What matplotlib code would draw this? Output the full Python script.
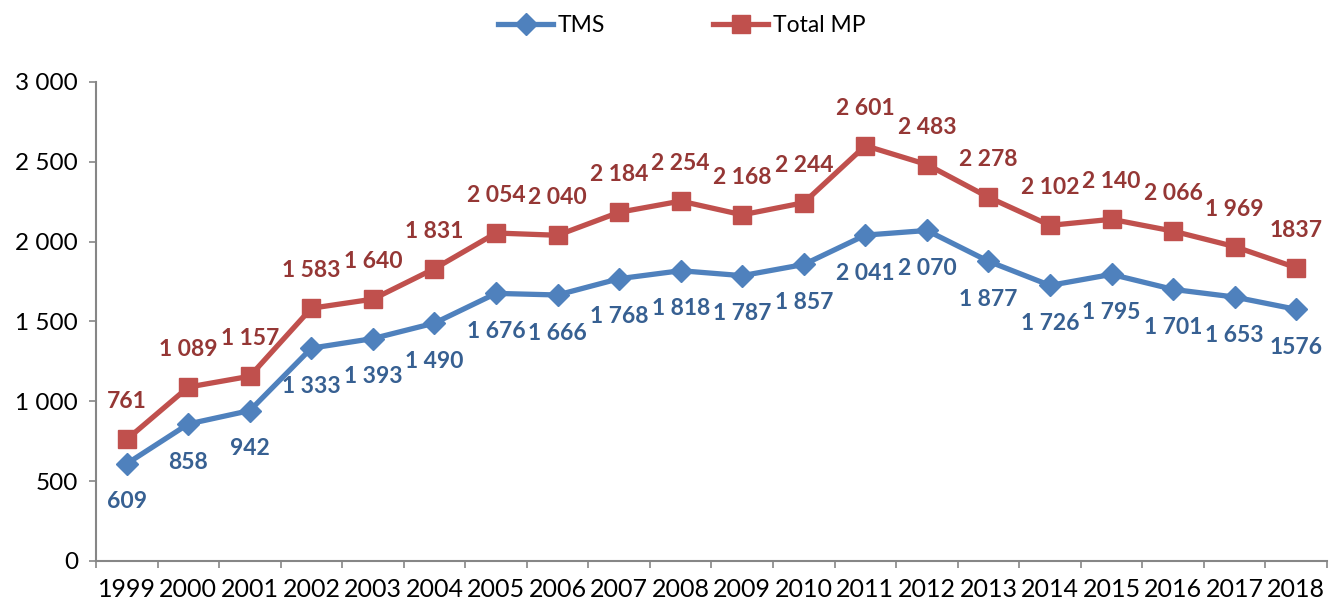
import matplotlib
matplotlib.use("Agg")
import matplotlib.pyplot as plt
from matplotlib.ticker import FuncFormatter, FixedLocator

plt.rcParams['font.family'] = ['Lato', 'DejaVu Sans']

years = ['1999', '2000', '2001', '2002', '2003', '2004', '2005', '2006', '2007', '2008',
         '2009', '2010', '2011', '2012', '2013', '2014', '2015', '2016', '2017', '2018']
tms = [609, 858, 942, 1333, 1393, 1490, 1676, 1666, 1768, 1818,
       1787, 1857, 2041, 2070, 1877, 1726, 1795, 1701, 1653, 1576]
total_mp = [761, 1089, 1157, 1583, 1640, 1831, 2054, 2040, 2184, 2254,
            2168, 2244, 2601, 2483, 2278, 2102, 2140, 2066, 1969, 1837]
tms_labels = ['609', '858', '942', '1 333', '1 393', '1 490', '1 676', '1 666', '1 768', '1 818',
              '1 787', '1 857', '2 041', '2 070', '1 877', '1 726', '1 795', '1 701', '1 653', '1576']
mp_labels = ['761', '1 089', '1 157', '1 583', '1 640', '1 831', '2 054', '2 040', '2 184', '2 254',
             '2 168', '2 244', '2 601', '2 483', '2 278', '2 102', '2 140', '2 066', '1 969', '1837']

blue = '#4F81BD'
red = '#C0504D'
blue_lbl = '#376092'
red_lbl = '#953735'
axis_col = '#868686'

fig = plt.figure(figsize=(13.29, 6.06), dpi=100)
ax = fig.add_axes([0.0722, 0.0743, 0.9263, 0.7904])

x = list(range(len(years)))
l1, = ax.plot(x, tms, color=blue, lw=3.8, marker='D', ms=11, mec=blue, mfc=blue,
              label='TMS', zorder=3)
l2, = ax.plot(x, total_mp, color=red, lw=3.8, marker='s', ms=12.5, mec=red, mfc=red,
              label='Total MP', zorder=3)

for xi, v, s in zip(x, tms, tms_labels):
    ax.annotate(s, (xi, v), xytext=(0, -27.5), textcoords='offset points',
                ha='center', va='center', fontsize=16.5, fontweight='bold', color=blue_lbl)
for xi, v, s in zip(x, total_mp, mp_labels):
    ax.annotate(s, (xi, v), xytext=(0, 27), textcoords='offset points',
                ha='center', va='center', fontsize=16.5, fontweight='bold', color=red_lbl)

ax.set_xlim(-0.5, len(years) - 0.5)
ax.set_ylim(0, 3000)
ax.set_yticks(range(0, 3001, 500))
ax.yaxis.set_major_formatter(FuncFormatter(lambda v, p: f"{int(v):,}".replace(',', ' ')))

ax.xaxis.set_major_locator(FixedLocator([i - 0.5 for i in range(len(years) + 1)]))
ax.xaxis.set_major_formatter(FuncFormatter(lambda v, p: ''))
ax.xaxis.set_minor_locator(FixedLocator(x))
ax.set_xticklabels(years, minor=True)
ax.tick_params(axis='x', which='minor', length=0, pad=12, labelsize=18)
ax.tick_params(axis='x', which='major', length=5, width=1.2, color=axis_col, direction='out')
ax.tick_params(axis='y', length=5, width=1.2, color=axis_col, direction='out', labelsize=17.5, pad=8)

for side in ['top', 'right']:
    ax.spines[side].set_visible(False)
for side in ['left', 'bottom']:
    ax.spines[side].set_color(axis_col)
    ax.spines[side].set_linewidth(1.5)

fig.legend(handles=[l1, l2], loc='center', bbox_to_anchor=(0.513, 0.958), ncol=2,
           frameon=False, fontsize=16.5, handlelength=2.4, handletextpad=0.2,
           columnspacing=4.7)

fig.savefig('out.png', dpi=100)
